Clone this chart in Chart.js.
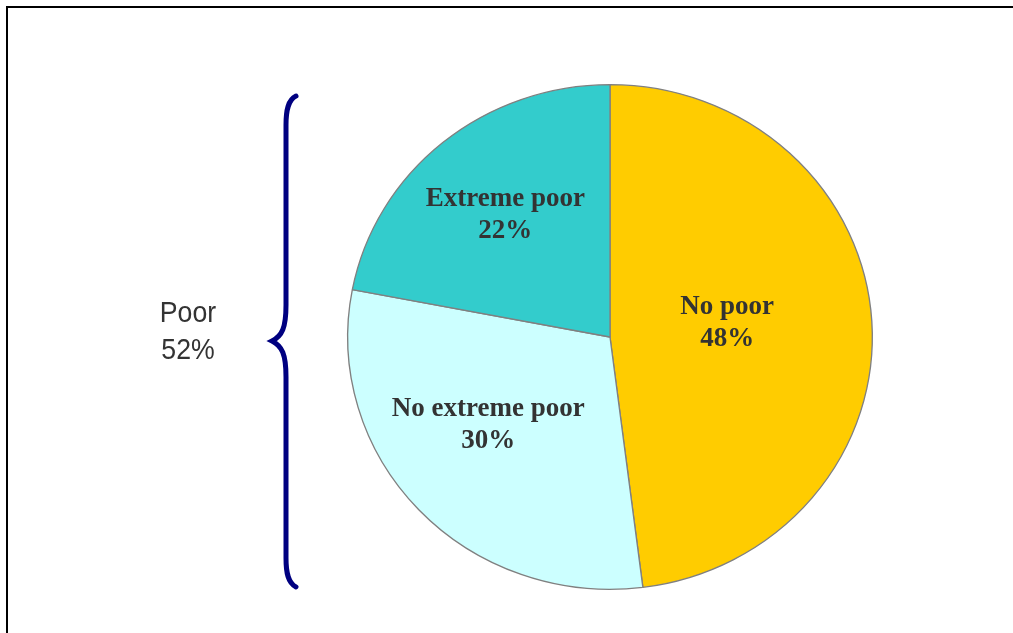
<!DOCTYPE html>
<html>
<head>
<meta charset="utf-8">
<title>Poverty breakdown</title>
<script src="https://cdn.jsdelivr.net/npm/chart.js@4/dist/chart.umd.min.js"></script>
<style>
  html, body { margin: 0; padding: 0; background: #fff; overflow: hidden; }
  #wrap { position: relative; width: 1013px; height: 633px; }
  #frame { position: absolute; left: 6px; top: 6px; width: 1100px; height: 700px;
           border: 2px solid #000; box-sizing: border-box; pointer-events: none; }
  canvas { position: absolute; left: 0; top: 0; }
</style>
</head>
<body>
<div id="wrap">
  <canvas id="myChart" width="1013" height="633"></canvas>
  <div id="frame"></div>
</div>
<script>
// slices, clockwise from 12 o'clock
const categories = ['No poor', 'No extreme poor', 'Extreme poor'];
const shares = [48, 30, 22];
const sliceColors = ['#FFCC00', '#CCFFFF', '#33CCCC'];
const groupLabel = ['Poor', '52%'];

// where each label sits inside its slice (fraction of radius, angle nudge in degrees)
const labelPlace = [
  { rf: 0.45, nudge: -3.5 },
  { rf: 0.58, nudge: 6.3 },
  { rf: 0.626, nudge: 0 }
];

const stretchX = 263 / 253; // the pie is drawn a touch wider than tall

const ovalPie = {
  id: 'ovalPie',
  beforeDatasetsDraw(chart) {
    const arc = chart.getDatasetMeta(0).data[0];
    const ctx = chart.ctx;
    ctx.save();
    ctx.translate(arc.x, arc.y);
    ctx.scale(stretchX, 1);
    ctx.translate(-arc.x, -arc.y);
  },
  afterDatasetsDraw(chart) {
    chart.ctx.restore();
  }
};

const sliceLabels = {
  id: 'sliceLabels',
  afterDraw(chart) {
    const ctx = chart.ctx;
    const meta = chart.getDatasetMeta(0);
    ctx.save();
    ctx.fillStyle = '#333333';
    ctx.textAlign = 'center';
    ctx.textBaseline = 'middle';
    ctx.font = 'bold 27px "Liberation Serif", "Times New Roman", serif';
    meta.data.forEach((arc, i) => {
      const p = arc.getProps(['x', 'y', 'startAngle', 'endAngle', 'outerRadius'], true);
      const mid = (p.startAngle + p.endAngle) / 2 + labelPlace[i].nudge * Math.PI / 180;
      const r = p.outerRadius * labelPlace[i].rf;
      const x = p.x + Math.cos(mid) * r * stretchX;
      const y = p.y + Math.sin(mid) * r;
      ctx.fillText(categories[i], x, y - 16);
      ctx.fillText(shares[i] + '%', x, y + 16);
    });
    ctx.restore();
  }
};

// curly brace grouping the two poor slices, with its caption
const poorBrace = {
  id: 'poorBrace',
  afterDraw(chart) {
    const ctx = chart.ctx;
    ctx.save();
    ctx.strokeStyle = '#000080';
    ctx.lineWidth = 5;
    ctx.lineCap = 'round';
    ctx.beginPath();
    ctx.moveTo(296, 96);
    ctx.bezierCurveTo(288, 100, 286, 110, 286, 125);
    ctx.lineTo(286, 305);
    ctx.bezierCurveTo(286, 328, 282, 336, 272, 341);
    ctx.bezierCurveTo(282, 346, 286, 354, 286, 377);
    ctx.lineTo(286, 558);
    ctx.bezierCurveTo(286, 573, 288, 583, 296, 587);
    ctx.stroke();

    // caption is a condensed sans, so squeeze the regular face a little
    ctx.fillStyle = '#333333';
    ctx.textAlign = 'center';
    ctx.textBaseline = 'alphabetic';
    ctx.font = '29px "Liberation Sans", Arial, sans-serif';
    ctx.translate(188, 0);
    ctx.scale(0.92, 1);
    ctx.fillText(groupLabel[0], 0, 322);
    ctx.fillText(groupLabel[1], 0, 359);
    ctx.restore();
  }
};

function initChart(target) {
  return new Chart(target, {
    type: 'pie',
    data: {
      labels: categories,
      datasets: [{
        data: shares,
        backgroundColor: sliceColors,
        borderColor: '#808080',
        borderWidth: 1.3
      }]
    },
    options: {
      responsive: false,
      animation: false,
      layout: { padding: { left: 357, right: 150, top: 84, bottom: 43 } },
      plugins: {
        legend: { display: false },
        tooltip: { enabled: false }
      }
    },
    plugins: [ovalPie, sliceLabels, poorBrace]
  });
}

document.addEventListener('DOMContentLoaded', () => initChart(document.querySelector('#myChart')));
</script>
</body>
</html>
